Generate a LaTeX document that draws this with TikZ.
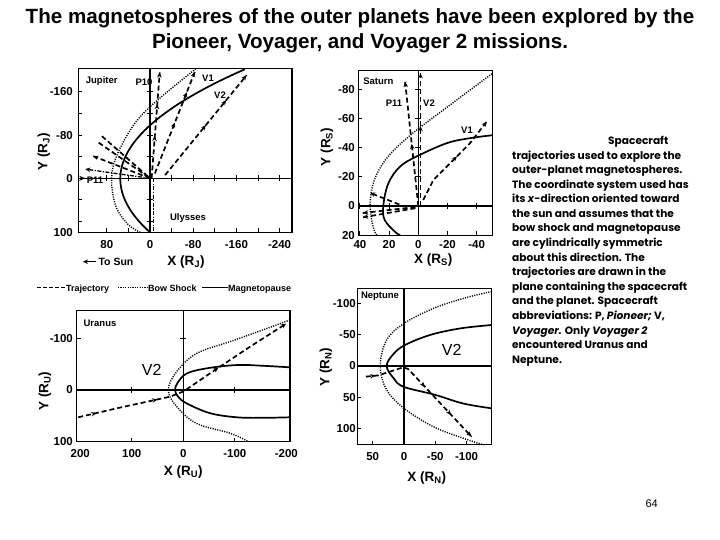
\documentclass[tikz,border=0pt]{standalone}
\usepackage{fontspec}
\setmainfont{Liberation Sans}
\newfontfamily\futura{Poppins}
\usetikzlibrary{arrows.meta,decorations.markings}
\tikzset{
 frm/.style={line width=1.2pt},
 axl/.style={line width=1.1pt},
 mpause/.style={line width=1.7pt},
 bshock/.style={line width=1.4pt, dash pattern=on 1.1pt off 1.3pt},
 traj/.style={line width=1.7pt, dash pattern=on 5pt off 3pt},
 dashdot/.style={line width=1.3pt, dash pattern=on 4pt off 1.5pt on 1.2pt off 1.5pt},
 am/.style={postaction={decorate,decoration={markings,mark=at position #1 with {\arrow{Stealth[length=5pt,width=4.5pt]}}}}},
 tk/.style={line width=1pt},
 lab/.style={font=\bfseries\fontsize{11.5}{12}\selectfont, inner sep=0pt},
 sml/.style={font=\bfseries\fontsize{9.5}{10}\selectfont, inner sep=0pt},
 lgt/.style={font=\bfseries\fontsize{9}{10}\selectfont, inner sep=0pt, anchor=base west},
 axt/.style={font=\bfseries\fontsize{13.5}{14}\selectfont, inner sep=0pt},
 bigl/.style={font=\fontsize{16}{17}\selectfont, inner sep=0pt},
 para/.style={font=\futura\bfseries\fontsize{10.6}{12}\selectfont, anchor=base west, inner sep=0pt},
}
\begin{document}
\begin{tikzpicture}[x=1pt,y=-1pt]
\useasboundingbox (0,0) rectangle (720,540);
% title
\node[font=\bfseries\fontsize{20.6}{22}\selectfont, anchor=base, inner sep=0pt] (t1) at (360,24) {The magnetospheres of the outer planets have been explored by the};
\node[font=\bfseries\fontsize{20.6}{22}\selectfont, anchor=base, inner sep=0pt] (t2) at (360,49) {Pioneer, Voyager, and Voyager 2 missions.};

% ================= Jupiter
\begin{scope}[shift={(150,178.3)}, x={(-0.54pt,0pt)}, y={(0pt,-0.54pt)}]
 \draw[frm] (133,-203) rectangle (-263,100);
 \draw[axl] (0,-203) -- (0,100);
 \draw[axl] (133,0) -- (-263,0);
 \foreach \v in {-160,-120,...,80} {
   \draw[tk] (133,\v) -- ++(4pt,0pt);
   \draw[tk] ([xshift=-3pt]0,\v) -- ([xshift=3pt]0,\v); }
 \foreach \u in {80,40,...,-240} {
   \draw[tk] (\u,100) -- ++(0pt,4pt);
   \draw[tk] ([yshift=-3pt]\u,0) -- ([yshift=3pt]\u,0); }
 \draw[bshock] plot[smooth, tension=0.6] coordinates {(18,100) (40,86) (62,55) (71,10) (66,-30) (45,-75) (20,-112) (-20,-150) (-85,-203)};
 \draw[mpause] plot[domain=-202:100, samples=80, variable=\t] ({55-0.56*((\t-1)/10)^2},{\t});
 \draw[traj, am=0.4, am=0.7, am=0.999] (-3,0) -- (-18,-196);
 \draw[traj, am=0.5, am=0.8, am=0.999] (-9,-9) -- (-83,-197);
 \draw[traj, am=0.5, am=0.75, am=0.999] (-28,-6) -- (-179,-191);
 \draw[traj] (89,-78) -- (0,0);
 \draw[traj] (95,-66) -- (0,0);
 \draw[traj, am=0.999] (0,0) -- (105,-41);
 \draw[dashdot, am=0.999] (0,0) -- (120,-17);
 \draw[line width=1pt,-{Stealth[length=6pt,width=5pt]}] (133,0) -- (120,0);
 \draw[dashdot] (-7,0) -- (-7,100);
\end{scope}
\node[sml] (jup) at (101.7,80.7) {Jupiter};
\node[sml] (p10) at (144,82) {P10};
\node[sml] (jv1) at (208,78.3) {V1};
\node[sml] (jv2) at (220,95) {V2};
\node[sml] (jp11) at (95,180) {P11};
\node[sml] (uly) at (188,218.3) {Ulysses};
\foreach \v/\yy/\nm in {-160/91.9/a,-80/135.1/b,0/178.3/c,100/232.3/d}
  \node[lab, anchor=east] (jy\nm) at (73,\yy) {\v};
\foreach \v/\xx/\nm in {80/106.8/a,0/150/b,-80/193.2/c,-160/236.4/d,-240/279.6/e}
  \node[lab] (jx\nm) at (\xx,245) {\v};
\node[lab, font=\bfseries\fontsize{10.5}{11}\selectfont] (tosun) at (116,261.7) {To Sun};
\coordinate (sunend) at (83,261.7);
\draw[line width=1.3pt,-{Stealth[length=5pt,width=4.5pt]}] (tosun.west) ++(-2pt,0) -- (sunend);
\node[axt] (jxl) at (186,261.7) {X (R\textsubscript{J})};
\node[axt, rotate=90] (jyl) at (44,152) {Y (R\textsubscript{J})};
% legend
\node[lgt] (lg1) at (66,291) {Trajectory};
\node[lgt] (lg2) at (148,291) {Bow Shock};
\node[lgt] (lg3) at (228,291) {Magnetopause};
\coordinate (lgs1) at (37,287.7);
\coordinate (lgs2) at (118,287.7);
\coordinate (lgs3) at (202,287.7);
\draw[traj, line width=1.3pt, dash pattern=on 3.5pt off 2.5pt] (lgs1) -- (lgs1 -| lg1.west);
\draw[bshock, line width=1.2pt] (lgs2) -- (lgs2 -| lg2.west);
\draw[line width=1.3pt] (lgs3) -- (lgs3 -| lg3.west);

% ================= Saturn
\begin{scope}[shift={(418.3,206)}, x={(-1.46pt,0pt)}, y={(0pt,-1.46pt)}]
 \draw[frm] (41,-93) rectangle (-51,20);
 \draw[axl] (0,-93) -- (0,20);
 \draw[axl] (41,0) -- (-51,0);
 \foreach \v in {-80,-60,...,0} {
   \draw[tk] (41,\v) -- ++(4pt,0pt);
   \draw[tk] ([xshift=-3pt]0,\v) -- ([xshift=3pt]0,\v); }
 \foreach \u in {40,20,...,-40} {
   \draw[tk] (\u,20) -- ++(0pt,4pt);
   \draw[tk] ([yshift=-3pt]\u,0) -- ([yshift=3pt]\u,0); }
 \draw[bshock] plot[smooth, tension=0.6] coordinates {(28.5,20) (31,14) (33,0) (31,-15) (25,-28) (15,-40) (0,-53)} -- (-51,-91);
 \draw[mpause] plot[smooth, tension=0.6] coordinates {(12.5,20) (16,17.6) (23,9.6) (24,0) (20.5,-15.5) (12.5,-27) (1,-34) (-19.4,-43) (-35,-46.4) (-51,-48.5)};
 \draw[traj, am=0.5, am=0.999] (0,0) -- (9,-85);
 \draw[traj, am=0.6, am=0.999] (-1.5,0) -- (-1.5,-91);
 \draw[traj, am=0.55, am=0.999] (-3.4,-4.1) -- (-10.3,-17.8) -- (-24,-31.5) -- (-35.4,-43) -- (-46.8,-57.7);
 \draw[traj, am=0.999] (2,0.7) -- (38,4.8);
 \draw[traj, am=0.999] (2,1.5) -- (38,7.8);
 \draw[traj, am=0.999] (13,-1) -- (33,-9);
\end{scope}
\node[sml] (sat) at (378.3,81.7) {Saturn};
\node[sml] (sp11) at (394,103.3) {P11};
\node[sml] (sv2) at (429,103.3) {V2};
\node[sml] (sv1) at (467,130) {V1};
\foreach \v/\yy/\nm in {-80/89.2/a,-60/118.4/b,-40/147.6/c,-20/176.8/d,0/206/e,20/235.2/f}
  \node[lab, anchor=east] (sy\nm) at (355,\yy) {\v};
\foreach \v/\xx/\nm in {40/359.9/a,20/389.1/b,0/418.3/c,-20/447.5/d,-40/476.7/e}
  \node[lab] (sx\nm) at (\xx,245) {\v};
\node[axt] (sxl) at (433.3,260) {X (R\textsubscript{S})};
\node[axt, rotate=90] (syl) at (327,147) {Y (R\textsubscript{S})};

% ================= Uranus
\begin{scope}[shift={(183.3,390)}, x={(-0.515pt,0pt)}, y={(0pt,-0.515pt)}]
 \draw[frm] (207,-155) rectangle (-207,100);
 \draw[axl] (0,-155) -- (0,100);
 \draw[line width=1.6pt] (207,0) -- (-207,0);
 \draw[tk] (207,-100) -- ++(4pt,0pt);
 \draw[tk] ([xshift=-3pt]0,-100) -- ([xshift=3pt]0,-100);
 \foreach \u in {100,-100} {
   \draw[tk] (\u,100) -- ++(0pt,4pt);
   \draw[tk] ([yshift=-3pt]\u,0) -- ([yshift=3pt]\u,0); }
 \draw[mpause] plot[smooth, tension=0.6] coordinates {(-207,-44) (-155,-47) (-104,-48.5) (-45,-42) (-6.5,-32) (11,-14) (16,0) (10,13) (-6.5,26) (-52,45) (-104,53) (-155,54) (-207,53)};
 \draw[bshock] plot[smooth, tension=0.6] coordinates {(-207,-136) (-150,-115) (-91,-94) (-26,-71) (13,-35.6) (29,0) (13,32) (-26,65) (-91,84) (-126,100)};
 \draw[traj, am=0.08, am=0.35, am=0.65, am=0.999] (204,53) -- (129,35.5) -- (26,13) -- (0,3) -- (-61.5,-38.8) -- (-129.5,-84) -- (-200,-129);
\end{scope}
\node[sml] (ura) at (100,323.3) {Uranus};
\node[bigl] (uv2) at (151.7,370) {V2};
\foreach \v/\yy/\nm in {-100/338.5/a,0/390/b,100/441.5/c}
  \node[lab, anchor=east] (uy\nm) at (73,\yy) {\v};
\foreach \v/\xx/\nm in {200/80.3/a,100/131.8/b,0/183.3/c,-100/234.8/d,-200/286.3/e}
  \node[lab] (ux\nm) at (\xx,453.3) {\v};
\node[axt] (uxl) at (183.3,471.7) {X (R\textsubscript{U})};
\node[axt, rotate=90] (uyl) at (45,391) {Y (R\textsubscript{U})};

% ================= Neptune
\begin{scope}[shift={(404,366)}, x={(-0.626pt,0pt)}, y={(0pt,-0.626pt)}]
 \draw[frm] (74.6,-124) rectangle (-140,126);
 \draw[axl] (0,-124) -- (0,126);
 \draw[axl] (74.6,0) -- (-140,0);
 \foreach \v in {-100,-50,...,100} \draw[tk] (74.6,\v) -- ++(4pt,0pt);
 \foreach \u in {50,0,-50,-100} \draw[tk] (\u,126) -- ++(0pt,4pt);
 \draw[mpause] plot[smooth, tension=0.6] coordinates {(-140,-65.5) (-89.5,-60) (-41.5,-49.5) (-1.6,-33.5) (17,-19) (27.7,0) (17,19) (1,33) (-49.5,46) (-95,60) (-140,67.6)};
 \draw[bshock] plot[smooth, tension=0.6] coordinates {(-140,-119) (-95,-108) (-47,-92) (0,-68) (27.7,-41.5) (38,0) (27.7,38) (0,67.6) (-47,97) (-95,115.5) (-127,126)};
 \draw[traj, am=0.07, am=0.5, am=0.78, am=0.999] (61,17) -- (41,15) -- (1,2) -- (-7,5) -- (-108,113);
\end{scope}
\node[sml] (nep) at (380,296.7) {Neptune};
\node[bigl] (nv2) at (451.7,350) {V2};
\foreach \v/\yy/\nm in {-100/303.4/a,-50/334.7/b,0/366/c,50/397.3/d,100/428.6/e}
  \node[lab, anchor=east] (ny\nm) at (356,\yy) {\v};
\foreach \v/\xx/\nm in {50/372.7/a,0/404/b,-50/435.3/c,-100/466.6/d}
  \node[lab] (nx\nm) at (\xx,456.7) {\v};
\node[axt] (nxl) at (426.7,478.3) {X (R\textsubscript{N})};
\node[axt, rotate=90] (nyl) at (326,367) {Y (R\textsubscript{N})};

% ================= caption text
\node[para] (c0) at (608,144.5) {Spacecraft};
\node[para] (c1) at (512,159.1) {trajectories used to explore the};
\node[para] (c2) at (512,173.7) {outer-planet magnetospheres.};
\node[para] (c3) at (512,188.2) {The coordinate system used has};
\node[para] (c4) at (512,202.8) {its \textit{x}-direction oriented toward};
\node[para] (c5) at (512,217.4) {the sun and assumes that the};
\node[para] (c6) at (512,232.0) {bow shock and magnetopause};
\node[para] (c7) at (512,246.6) {are cylindrically symmetric};
\node[para] (c8) at (512,261.1) {about this direction. The};
\node[para] (c9) at (512,275.7) {trajectories are drawn in the};
\node[para] (c10) at (512,290.3) {plane containing the spacecraft};
\node[para] (c11) at (512,304.9) {and the planet. Spacecraft};
\node[para] (c12) at (512,319.5) {abbreviations: P, \textit{Pioneer;} V,};
\node[para] (c13) at (512,334.0) {\textit{Voyager.} Only \textit{Voyager 2}};
\node[para] (c14) at (512,348.6) {encountered Uranus and};
\node[para] (c15) at (512,363.2) {Neptune.};

\node[font=\fontsize{11}{12}\selectfont, inner sep=0pt] (pg) at (651.7,504) {64};
\end{tikzpicture}
\end{document}
